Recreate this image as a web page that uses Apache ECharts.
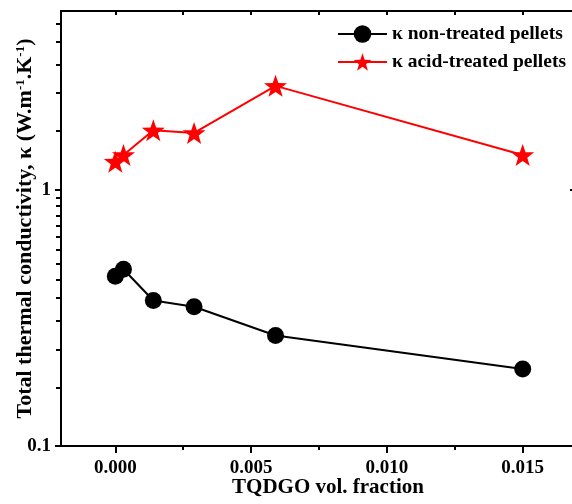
<!DOCTYPE html>
<html>
<head>
<meta charset="utf-8">
<script src="https://cdn.jsdelivr.net/npm/echarts@6/dist/echarts.min.js"></script>
<style>html,body{margin:0;padding:0;background:#fff}#c{width:572px;height:504px}</style>
</head>
<body>
<div id="c"></div>
<script>
// ---- data ----
var fractions = [0, 0.0003, 0.0014, 0.0029, 0.0059, 0.015];
var kNonTreated = [0.46, 0.49, 0.37, 0.35, 0.27, 0.20];
var kAcidTreated = [1.29, 1.37, 1.71, 1.67, 2.55, 1.37];
var seriesNames = ['\u03ba non-treated pellets', '\u03ba acid-treated pellets'];
var xTickValues = [0, 0.005, 0.010, 0.015];
var xMinorValues = [0.0025, 0.0075, 0.0125];
var yTickValues = [0.1, 1];
var yTickLabels = ['0.1', '1'];
// minor ticks of the left log axis (linear steps, as in the original)
var yMinorValues = [0.169, 0.238, 0.308, 0.377, 0.446, 0.515, 0.585, 0.654, 0.723, 0.792, 0.862, 0.931,
                    1.692, 2.385, 3.077, 3.769, 4.462];

var FONT = '"Liberation Serif", "Times New Roman", serif';
var STAR = 'path://M0,-10 L2.35,-3.24 L9.51,-3.09 L3.8,1.24 L5.88,8.09 L0,4 L-5.88,8.09 L-3.8,1.24 L-9.51,-3.09 L-2.35,-3.24 Z';

function pairs(xs, ys) { return xs.map(function (x, i) { return [x, ys[i]]; }); }

var chart = echarts.init(document.getElementById('c'), null, {renderer: 'canvas'});
var axisLineStyle = {color: '#000', width: 2};
var X_MIN = -0.002, X_MAX = 0.017, Y_MIN = 0.1, Y_MAX = 5;

chart.setOption({
  animation: false,
  backgroundColor: '#fff',
  grid: {left: 61, top: 11, right: -5, bottom: 58, containLabel: false, outerBoundsMode: 'none'},
  legend: {
    orient: 'vertical', right: 6, top: 24, padding: 0,
    itemWidth: 49, itemHeight: 22, itemGap: 8, align: 'left',
    textStyle: {fontFamily: FONT, fontWeight: 'bold', fontSize: 19.5, color: '#000'},
    data: seriesNames
  },
  xAxis: [
    {
      type: 'value', min: X_MIN, max: X_MAX, position: 'bottom',
      name: 'TQDGO vol. fraction', nameLocation: 'middle', nameGap: 31, nameMoveOverlap: false,
      nameTextStyle: {fontFamily: FONT, fontWeight: 'bold', fontSize: 21, color: '#000', padding: [0, 0, 0, 18]},
      axisLine: {show: true, onZero: false, lineStyle: axisLineStyle},
      axisTick: {show: true, inside: false, length: 7, interval: 0, lineStyle: {width: 2, color: '#000'}, customValues: xTickValues},
      axisLabel: {show: true, margin: 13, customValues: xTickValues, fontFamily: FONT, fontWeight: 'bold', fontSize: 19, color: '#000',
        formatter: function (v) { return v.toFixed(3); }},
      splitLine: {show: false}
    },
    {
      type: 'value', min: X_MIN, max: X_MAX, position: 'bottom', gridIndex: 0,
      axisLine: {show: false, onZero: false},
      axisTick: {show: true, inside: false, length: 4, interval: 0, lineStyle: {width: 2, color: '#000'}, customValues: xMinorValues},
      axisLabel: {show: false}, splitLine: {show: false}
    },
    {
      type: 'value', min: X_MIN, max: X_MAX, position: 'top',
      axisLine: {show: true, onZero: false, lineStyle: axisLineStyle},
      axisTick: {show: true, inside: true, length: 4, interval: 0, lineStyle: {width: 2, color: '#000'}, customValues: xTickValues.concat(xMinorValues)},
      axisLabel: {show: false}, splitLine: {show: false}
    }
  ],
  yAxis: [
    {
      type: 'log', logBase: 10, min: Y_MIN, max: Y_MAX, position: 'left',
      name: 'Total thermal conductivity, \u03ba (W.m{sup|-1}.K{sup|-1})',
      nameLocation: 'middle', nameRotate: 90, nameGap: 25, nameMoveOverlap: false,
      nameTextStyle: {fontFamily: FONT, fontWeight: 'bold', fontSize: 22, color: '#000',
        rich: {sup: {fontFamily: FONT, fontWeight: 'bold', fontSize: 13, color: '#000', verticalAlign: 'top', lineHeight: 22}}},
      axisLine: {show: true, onZero: false, lineStyle: axisLineStyle},
      axisTick: {show: true, inside: false, length: 6, interval: 0, lineStyle: {width: 2, color: '#000'}, customValues: yTickValues},
      axisLabel: {show: true, margin: 10, customValues: yTickValues, fontFamily: FONT, fontWeight: 'bold', fontSize: 19, color: '#000',
        formatter: function (v) { var i = yTickValues.indexOf(+v); return i >= 0 ? yTickLabels[i] : ''; }},
      splitLine: {show: false}
    },
    {
      type: 'log', logBase: 10, min: Y_MIN, max: Y_MAX, position: 'right',
      axisLine: {show: false, onZero: false},
      axisTick: {show: true, inside: true, length: 7, interval: 0, lineStyle: {width: 2, color: '#000'}, customValues: yTickValues},
      axisLabel: {show: false}, splitLine: {show: false}
    }
  ],
  series: [
    {
      // minor ticks of the left log axis, placed through the axis scale
      type: 'custom', xAxisIndex: 0, yAxisIndex: 0, clip: false, silent: true,
      legendHoverLink: false, z: 5,
      data: yMinorValues.map(function (v) { return [X_MIN, v]; }),
      renderItem: function (params, api) {
        var p = api.coord([api.value(0), api.value(1)]);
        var y = Math.round(p[1]);
        return {type: 'rect', shape: {x: Math.round(p[0]) - 5, y: y - 1, width: 5, height: 2},
          style: {fill: '#000'}};
      }
    },
    {
      name: seriesNames[0], type: 'line', xAxisIndex: 0, yAxisIndex: 0,
      data: pairs(fractions, kNonTreated),
      symbol: 'circle', symbolSize: 17,
      lineStyle: {color: '#000', width: 2},
      itemStyle: {color: '#000'}
    },
    {
      name: seriesNames[1], type: 'line', xAxisIndex: 0, yAxisIndex: 0,
      data: pairs(fractions, kAcidTreated),
      symbol: STAR, symbolSize: [23, 22],
      lineStyle: {color: '#ff0000', width: 2},
      itemStyle: {color: '#ff0000'}
    }
  ]
});
</script>
</body>
</html>
